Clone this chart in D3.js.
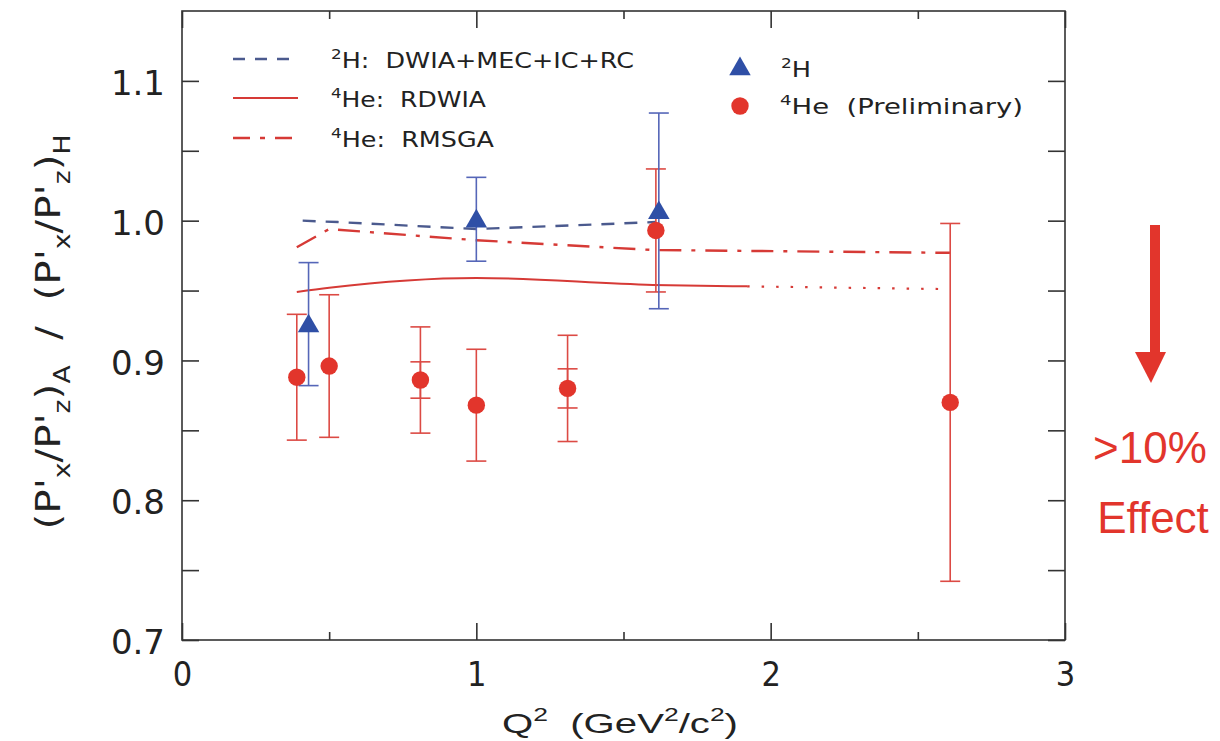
<!DOCTYPE html>
<html>
<head>
<meta charset="utf-8">
<script src="https://cdn.jsdelivr.net/npm/d3@7"></script>
<style>
  body { margin: 0; background: #fff; }
  svg text { white-space: pre; }
</style>
</head>
<body>
<svg id="chart" width="1220" height="741"></svg>
<script>
// 2H measurement (blue triangles)
const h2Q2 = [0.43, 1.00, 1.62];
const h2Ratio = [0.926, 1.001, 1.007];
const h2Err = [0.044, 0.030, 0.070];

// 4He measurement (red circles): total error, and stat error where drawn
const he4Q2 = [0.39, 0.50, 0.81, 1.00, 1.31, 1.61, 2.61];
const he4Ratio = [0.888, 0.896, 0.886, 0.868, 0.880, 0.993, 0.870];
const he4ErrTot = [0.045, 0.051, 0.038, 0.040, 0.038, 0.044, 0.128];
const he4ErrStat = [0, 0, 0.013, 0, 0.014, 0, 0];

// calculations
const dwiaQ2 = [0.41, 0.53, 1.00, 1.61];
const dwiaRatio = [1.000, 0.999, 0.994, 0.999];
const rdwiaQ2 = [0.39, 0.50, 1.00, 1.60, 1.92];
const rdwiaRatio = [0.949, 0.952, 0.959, 0.954, 0.953];
const rdwiaExtQ2 = [1.92, 2.61];
const rdwiaExtRatio = [0.953, 0.951];
const rmsgaQ2 = [0.39, 0.50, 1.00, 1.60, 2.61];
const rmsgaRatio = [0.981, 0.994, 0.986, 0.979, 0.977];

const xTicks = [0, 0.5, 1, 1.5, 2, 2.5, 3];
const yTicks = [0.7, 0.75, 0.8, 0.85, 0.9, 0.95, 1.0, 1.05, 1.1];

const RED = "#e2352c", RED_LINE = "#d63a36", RED_ERR = "#dc4a44";
const BLUE = "#2f4fa6", BLUE_ERR = "#5566b8", BLUE_LINE = "#4b5a8e";
const TXT = "#222";

let svg = d3.select("#chart");
let margin = {top: 11, right: 155, bottom: 101, left: 182},
    x0 = margin.left, x1 = 1220 - margin.right,
    y0 = margin.top, y1 = 741 - margin.bottom;

let x = d3.scaleLinear().domain([0, 3]).range([x0, x1]);
let y = d3.scaleLinear().domain([0.7, 1.15]).range([y1, y0]);

// text with super/subscripts: parts = [[string, "sup"|"sub"|""], ...]
function richText(g, px, py, size, parts, opts) {
  opts = opts || {};
  let t = g.append("text")
    .attr("x", px).attr("y", py)
    .attr("font-size", size)
    .attr("font-family", opts.family || "DejaVu Sans, sans-serif")
    .attr("fill", opts.fill || TXT);
  if (opts.anchor) t.attr("text-anchor", opts.anchor);
  if (opts.transform) t.attr("transform", opts.transform);
  let shift = 0;
  parts.forEach(p => {
    let want = p[1] === "sup" ? -0.42 * size : p[1] === "sub" ? 0.3 * size : 0;
    let s = t.append("tspan").attr("dy", want - shift).text(p[0]);
    if (p[1]) s.attr("font-size", size * 0.66);
    shift = want;
  });
  if (opts.length) t.attr("textLength", opts.length).attr("lengthAdjust", "spacingAndGlyphs");
  return t;
}

// frame
svg.append("rect")
  .attr("x", x0).attr("y", y0)
  .attr("width", x1 - x0).attr("height", y1 - y0)
  .attr("fill", "none").attr("stroke", "#333").attr("stroke-width", 1.6);

const isMajorX = d => Math.abs(d - Math.round(d)) < 1e-6;
const isMajorY = d => Math.abs(d * 10 - Math.round(d * 10)) < 1e-6;

function styleAxis(g) {
  g.select(".domain").remove();
  g.selectAll(".tick line").attr("stroke", "#333").attr("stroke-width", 1.6);
}

// bottom axis, major ticks with labels
svg.append("g")
  .attr("transform", "translate(0," + y1 + ")")
  .call(d3.axisBottom(x).tickValues(xTicks.filter(isMajorX))
    .tickSizeInner(-17).tickSizeOuter(0).tickPadding(22)
    .tickFormat(d3.format("d")))
  .call(styleAxis)
  .call(g => g.selectAll("text")
    .attr("font-size", 34).attr("font-family", "Liberation Sans Narrow, DejaVu Sans Condensed, sans-serif")
    .attr("fill", TXT));

// bottom axis minor ticks
svg.append("g")
  .attr("transform", "translate(0," + y1 + ")")
  .call(d3.axisBottom(x).tickValues(xTicks.filter(d => !isMajorX(d)))
    .tickSizeInner(-8).tickSizeOuter(0).tickFormat(""))
  .call(styleAxis);

// top axis mirror
svg.append("g")
  .attr("transform", "translate(0," + y0 + ")")
  .call(d3.axisTop(x).tickValues(xTicks.filter(isMajorX))
    .tickSizeInner(-17).tickSizeOuter(0).tickFormat(""))
  .call(styleAxis);
svg.append("g")
  .attr("transform", "translate(0," + y0 + ")")
  .call(d3.axisTop(x).tickValues(xTicks.filter(d => !isMajorX(d)))
    .tickSizeInner(-8).tickSizeOuter(0).tickFormat(""))
  .call(styleAxis);

// left axis
svg.append("g")
  .attr("transform", "translate(" + x0 + ",0)")
  .call(d3.axisLeft(y).tickValues(yTicks)
    .tickSizeInner(-17).tickSizeOuter(0).tickPadding(17)
    .tickFormat(d => isMajorY(d) ? d3.format(".1f")(d) : ""))
  .call(styleAxis)
  .call(g => g.selectAll("text")
    .attr("font-size", 34).attr("font-family", "DejaVu Sans, sans-serif")
    .attr("dy", "0.40em").attr("fill", TXT));

// right axis mirror
svg.append("g")
  .attr("transform", "translate(" + x1 + ",0)")
  .call(d3.axisRight(y).tickValues(yTicks)
    .tickSizeInner(-17).tickSizeOuter(0).tickFormat(""))
  .call(styleAxis);

// axis titles
richText(svg, 620, 733, 28,
  [["Q", ""], ["2", "sup"], ["  (GeV", ""], ["2", "sup"], ["/c", ""], ["2", "sup"], [")", ""]],
  {anchor: "middle", family: "Liberation Sans, Arial, sans-serif", length: 236});

richText(svg, 0, 0, 34,
  [["(P'", ""], ["x", "sub"], ["/P'", ""], ["z", "sub"], [")", ""], ["A", "sub"],
   ["  /  (P'", ""], ["x", "sub"], ["/P'", ""], ["z", "sub"], [")", ""], ["H", "sub"]],
  {anchor: "middle", transform: "translate(60,332) rotate(-90)", length: 395});

// theory curves
let plot = svg.append("g");
let line = d3.line().x(d => x(d[0])).y(d => y(d[1]));
let smooth = d3.line().x(d => x(d[0])).y(d => y(d[1])).curve(d3.curveMonotoneX);

plot.append("path")
  .datum(d3.zip(dwiaQ2, dwiaRatio))
  .attr("d", line).attr("fill", "none")
  .attr("stroke", BLUE_LINE).attr("stroke-width", 2.4)
  .attr("stroke-dasharray", "13,10");

plot.append("path")
  .datum(d3.zip(rdwiaQ2, rdwiaRatio))
  .attr("d", smooth).attr("fill", "none")
  .attr("stroke", RED_LINE).attr("stroke-width", 2);

plot.append("path")
  .datum(d3.zip(rdwiaExtQ2, rdwiaExtRatio))
  .attr("d", line).attr("fill", "none")
  .attr("stroke", RED_LINE).attr("stroke-width", 2.2)
  .attr("stroke-dasharray", "2.5,12");

plot.append("path")
  .datum(d3.zip(rmsgaQ2, rmsgaRatio))
  .attr("d", line).attr("fill", "none")
  .attr("stroke", RED_LINE).attr("stroke-width", 2.4)
  .attr("stroke-dasharray", "22,10,4,10");

// error bars
function errorBars(xs, ys, errs, color) {
  let capW = 10;
  xs.forEach((q, i) => {
    if (!errs[i]) return;
    let cx = x(q), lo = y(ys[i] - errs[i]), hi = y(ys[i] + errs[i]);
    let g = plot.append("g").attr("stroke", color).attr("stroke-width", 1.6);
    g.append("line").attr("x1", cx).attr("x2", cx).attr("y1", lo).attr("y2", hi);
    g.append("line").attr("x1", cx - capW).attr("x2", cx + capW).attr("y1", lo).attr("y2", lo);
    g.append("line").attr("x1", cx - capW).attr("x2", cx + capW).attr("y1", hi).attr("y2", hi);
  });
}
errorBars(he4Q2, he4Ratio, he4ErrTot, RED_ERR);
errorBars(he4Q2, he4Ratio, he4ErrStat, RED_ERR);
errorBars(h2Q2, h2Ratio, h2Err, BLUE_ERR);

// markers
let tri = d3.symbol().type(d3.symbolTriangle).size(200);
plot.selectAll(".h2")
  .data(d3.zip(h2Q2, h2Ratio))
  .enter().append("path")
    .attr("class", "h2")
    .attr("d", tri)
    .attr("transform", d => "translate(" + x(d[0]) + "," + (y(d[1]) + 2) + ")")
    .attr("fill", BLUE);

plot.selectAll(".he4")
  .data(d3.zip(he4Q2, he4Ratio))
  .enter().append("circle")
    .attr("class", "he4")
    .attr("cx", d => x(d[0])).attr("cy", d => y(d[1]))
    .attr("r", 8.7)
    .attr("fill", RED);

// legend, left block (curves)
let legend = svg.append("g");
let curveKeys = [
  {color: BLUE_LINE, dash: "12,10", w: 2.4, y: 59,
   parts: [["2", "sup"], ["H:  DWIA+MEC+IC+RC", ""]], len: 303},
  {color: RED_LINE, dash: null, w: 2, y: 98,
   parts: [["4", "sup"], ["He:  RDWIA", ""]], len: 155},
  {color: RED_LINE, dash: "17,10,5,10", w: 2.4, y: 138,
   parts: [["4", "sup"], ["He:  RMSGA", ""]], len: 163}
];
curveKeys.forEach(k => {
  let l = legend.append("line")
    .attr("x1", 233).attr("x2", 298).attr("y1", k.y).attr("y2", k.y)
    .attr("stroke", k.color).attr("stroke-width", k.w);
  if (k.dash) l.attr("stroke-dasharray", k.dash);
  richText(legend, 331, k.y + 9, 21, k.parts, {length: k.len});
});

// legend, right block (data)
legend.append("path")
  .attr("d", tri)
  .attr("transform", "translate(740,69)")
  .attr("fill", BLUE);
richText(legend, 781, 77, 21, [["2", "sup"], ["H", ""]], {length: 30});
legend.append("circle")
  .attr("cx", 740).attr("cy", 106).attr("r", 8.7)
  .attr("fill", RED);
richText(legend, 780, 114, 21, [["4", "sup"], ["He  (Preliminary)", ""]], {length: 243});

// ">10% Effect" annotation
let note = svg.append("g").attr("fill", RED);
note.append("rect").attr("x", 1150).attr("y", 225).attr("width", 10).attr("height", 130);
note.append("path").attr("d", "M1135,352 L1166,352 L1151,383 Z");
note.append("text").attr("x", 1150).attr("y", 463)
  .attr("text-anchor", "middle").attr("font-size", 44)
  .attr("font-family", "Liberation Sans, Arial, sans-serif")
  .text(">10%");
note.append("text").attr("x", 1153).attr("y", 533)
  .attr("text-anchor", "middle").attr("font-size", 44)
  .attr("font-family", "Liberation Sans, Arial, sans-serif")
  .text("Effect");
</script>
</body>
</html>
